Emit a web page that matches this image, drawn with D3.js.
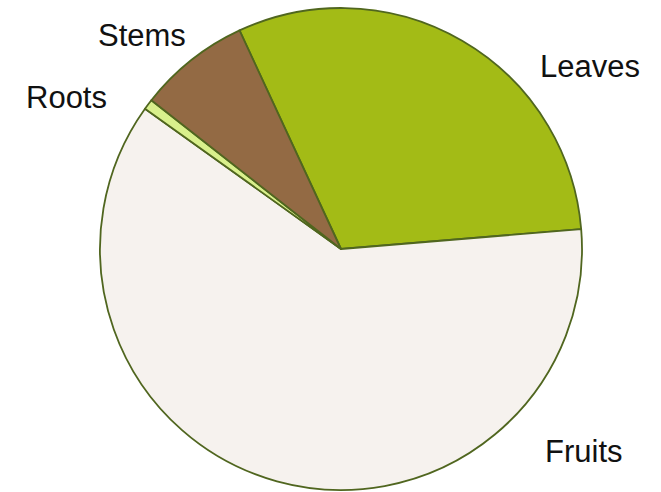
<!DOCTYPE html>
<html>
<head>
<meta charset="utf-8">
<script src="https://cdn.jsdelivr.net/npm/d3@7"></script>
<style>
  html, body { margin: 0; padding: 0; background: #ffffff; }
  svg { display: block; }
</style>
</head>
<body>
<div id="chart"></div>
<script>
// Data (share by plant part, %)
const categories = ["Leaves", "Fruits", "Roots", "Stems"];
const values = [30.6, 61.2, 0.7, 7.5];
const colors = ["#a3bb16", "#f6f2ee", "#d9f08c", "#936a44"];

const width = 661, height = 492;
const cx = 341, cy = 249, radius = 241;
const startDeg = 335.1;

// label placement (layout only): anchor point for each label
const labelPos = {
  Leaves: [540, 77],
  Fruits: [545, 462],
  Roots:  [26, 108],
  Stems:  [98, 46]
};

const svg = d3.select("#chart").append("svg")
  .attr("width", width).attr("height", height);

const data = categories.map((c, i) => ({ name: c, value: values[i], color: colors[i] }));

const a0 = startDeg * Math.PI / 180;
const pie = d3.pie().sort(null).value(d => d.value)
  .startAngle(a0).endAngle(a0 + 2 * Math.PI);
const arc = d3.arc().innerRadius(0).outerRadius(radius);

const g = svg.append("g").attr("transform", `translate(${cx},${cy})`);
g.selectAll("path").data(pie(data)).join("path")
  .attr("d", arc)
  .attr("fill", d => d.data.color)
  .attr("stroke", "#50661f")
  .attr("stroke-width", 1.8)
  .attr("stroke-linejoin", "round");

svg.selectAll("text.lbl").data(data).join("text")
  .attr("class", "lbl")
  .attr("x", d => labelPos[d.name][0])
  .attr("y", d => labelPos[d.name][1])
  .attr("font-family", "Liberation Sans, Arial, sans-serif")
  .attr("font-size", 31)
  .attr("fill", "#111")
  .text(d => d.name);
</script>
</body>
</html>
